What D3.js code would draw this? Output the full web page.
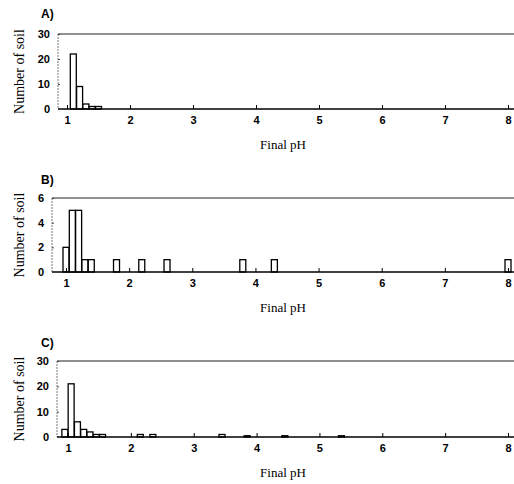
<!DOCTYPE html>
<html lang="en">
<head>
<meta charset="UTF-8">
<title>Final pH histograms</title>
<script src="https://cdn.jsdelivr.net/npm/d3@7"></script>
<style>
  body { margin: 0; background: #fff; }
  svg { display: block; }
</style>
</head>
<body>
<script>
// tick labels
const phTicks = [1, 2, 3, 4, 5, 6, 7, 8];
const countTicksAC = [0, 10, 20, 30];
const countTicksB = [0, 2, 4, 6];

// panel A
const aPH = [1.1, 1.2, 1.3, 1.4, 1.5];
const aCount = [22, 9, 2, 1, 1];

// panel B
const bPH = [1.0, 1.1, 1.2, 1.3, 1.4, 1.8, 2.2, 2.6, 3.8, 4.3, 8.0];
const bCount = [2, 5, 5, 1, 1, 1, 1, 1, 1, 1, 1];

// panel C
const cPH = [0.95, 1.05, 1.15, 1.25, 1.35, 1.45, 1.55, 2.15, 2.35, 3.45, 3.85, 4.45, 5.35];
const cCount = [3, 21, 6, 3, 2, 1, 1, 1, 1, 1, 0.5, 0.5, 0.5];

const W = 514, H = 484;
const binW = 0.095;

const svg = d3.select('body').append('svg')
    .attr('width', W)
    .attr('height', H);

// each panel was scanned with slightly different offsets
const panels = [
    { label: 'A)', ph: aPH, count: aCount, yTicks: countTicksAC, yMax: 30,
      left: 58, top: 34, bottom: 109, x1: 67, x8: 508, labelY: 18 },
    { label: 'B)', ph: bPH, count: bCount, yTicks: countTicksB, yMax: 6,
      left: 52, top: 198, bottom: 272, x1: 66, x8: 508, labelY: 184 },
    { label: 'C)', ph: cPH, count: cCount, yTicks: countTicksAC, yMax: 30,
      left: 57, top: 361, bottom: 437, x1: 68, x8: 508, labelY: 347 }
];

panels.forEach(p => drawPanel(p));

function drawPanel(p) {
    const x = d3.scaleLinear().domain([1, 8]).range([p.x1, p.x8]);
    const y = d3.scaleLinear().domain([0, p.yMax]).range([p.bottom, p.top]);
    const right = W + 2;

    const g = svg.append('g');

    // frame: top and left
    g.append('line')
        .attr('x1', p.left).attr('x2', right)
        .attr('y1', p.top).attr('y2', p.top)
        .attr('stroke', '#222').attr('stroke-width', 1.2);
    g.append('line')
        .attr('x1', p.left).attr('x2', p.left)
        .attr('y1', p.top).attr('y2', p.bottom)
        .attr('stroke', '#555').attr('stroke-width', 0.8)
        .attr('stroke-dasharray', '2,1');

    // bars
    const data = p.ph.map((v, i) => ({ ph: v, n: p.count[i] }));
    g.selectAll('rect.bar')
        .data(data)
        .enter().append('rect')
        .attr('class', 'bar')
        .attr('x', d => x(d.ph - binW / 2))
        .attr('width', d => x(d.ph + binW / 2) - x(d.ph - binW / 2))
        .attr('y', d => y(d.n))
        .attr('height', d => y(0) - y(d.n))
        .attr('fill', '#fff')
        .attr('stroke', '#000')
        .attr('stroke-width', 1.3);

    // x axis with inward ticks
    const xAxis = d3.axisBottom(x)
        .tickValues(phTicks)
        .tickSize(-4)
        .tickPadding(7)
        .tickFormat(d3.format('d'));
    const gx = g.append('g')
        .attr('transform', `translate(0,${p.bottom})`)
        .call(xAxis);
    gx.select('.domain').remove();
    gx.selectAll('.tick line').attr('stroke', '#000').attr('stroke-width', 1);
    gx.selectAll('.tick text')
        .attr('fill', '#000')
        .style('font-family', 'Liberation Sans, Arial, sans-serif')
        .style('font-weight', 'bold')
        .style('font-size', '11px');
    g.append('line')
        .attr('x1', p.left).attr('x2', right)
        .attr('y1', p.bottom).attr('y2', p.bottom)
        .attr('stroke', '#000').attr('stroke-width', 1.6);

    // y axis
    const yAxis = d3.axisLeft(y)
        .tickValues(p.yTicks)
        .tickSize(-2)
        .tickPadding(8)
        .tickFormat(d3.format('d'));
    const gy = g.append('g')
        .attr('transform', `translate(${p.left},0)`)
        .call(yAxis);
    gy.select('.domain').remove();
    gy.selectAll('.tick line').attr('stroke', '#444');
    gy.selectAll('.tick text')
        .attr('fill', '#000')
        .style('font-family', 'Liberation Sans, Arial, sans-serif')
        .style('font-weight', 'bold')
        .style('font-size', '11px');

    // y title
    g.append('text')
        .attr('transform', `translate(24,${(p.top + p.bottom) / 2}) rotate(-90)`)
        .attr('text-anchor', 'middle')
        .style('font-family', 'Liberation Serif, Times New Roman, serif')
        .style('font-size', '14px')
        .text('Number of soil');

    // x title
    g.append('text')
        .attr('x', 283)
        .attr('y', p.bottom + 40)
        .attr('text-anchor', 'middle')
        .style('font-family', 'Liberation Serif, Times New Roman, serif')
        .style('font-size', '13px')
        .text('Final pH');

    // panel label
    g.append('text')
        .attr('x', 41)
        .attr('y', p.labelY)
        .style('font-family', 'Liberation Sans, Arial, sans-serif')
        .style('font-weight', 'bold')
        .style('font-size', '12px')
        .text(p.label);
}
</script>
</body>
</html>
